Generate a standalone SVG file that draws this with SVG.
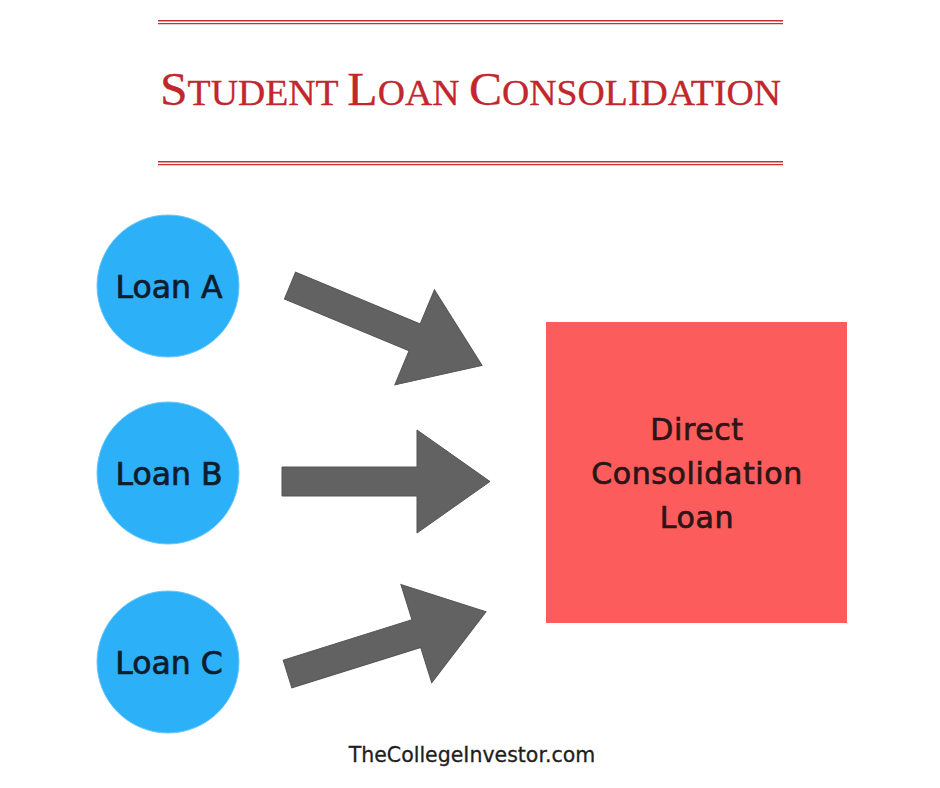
<svg xmlns="http://www.w3.org/2000/svg" width="940" height="788" viewBox="0 0 940 788">
<style>
.rule{stroke:#c8302f;stroke-width:1.4;fill:none}
.title{font-family:"Liberation Serif","Times New Roman",serif;fill:#c1272d;stroke:#c1272d;stroke-width:0.3}
.loan{fill:#2cb0f7;stroke:#6cc8f8;stroke-width:1}
.lt{font-family:"DejaVu Sans","Noto Sans",sans-serif;font-size:31.5px;fill:#0f1c2c;stroke:#0f1c2c;stroke-width:0.7;text-anchor:middle}
.bt{font-family:"DejaVu Sans","Noto Sans",sans-serif;font-size:30px;fill:#2a1616;stroke:#2a1616;stroke-width:0.7;text-anchor:middle;letter-spacing:0.6px}
.arrow{fill:#626262;stroke:#555;stroke-width:1}
.foot{font-family:"DejaVu Sans","Noto Sans",sans-serif;font-size:20.5px;fill:#1e1e1e;stroke:#1e1e1e;stroke-width:0.3;text-anchor:middle}
</style>
<defs>
<polygon id="arr" points="0,-14.5 135,-14.5 135,-51.5 208,0 135,51.5 135,14.5 0,14.5"/>
</defs>
<rect width="940" height="788" fill="#ffffff"/>
<g id="header">
<line class="rule" x1="158" y1="20.7" x2="783" y2="20.7"/>
<line class="rule" x1="158" y1="23.6" x2="783" y2="23.6"/>
<line class="rule" x1="158" y1="161.7" x2="783" y2="161.7"/>
<line class="rule" x1="158" y1="164.6" x2="783" y2="164.6"/>
<text class="title" x="160" y="104.5" textLength="621" lengthAdjust="spacingAndGlyphs"><tspan font-size="46">S</tspan><tspan font-size="35">TUDENT </tspan><tspan font-size="46">L</tspan><tspan font-size="35">OAN </tspan><tspan font-size="46">C</tspan><tspan font-size="35">ONSOLIDATION</tspan></text>
</g>
<g id="loan-a">
<circle class="loan" cx="168" cy="286" r="71"/>
<text class="lt" x="169" y="298">Loan A</text>
</g>
<g id="loan-b">
<circle class="loan" cx="168" cy="473" r="71"/>
<text class="lt" x="169" y="485">Loan B</text>
</g>
<g id="loan-c">
<circle class="loan" cx="168" cy="662" r="71"/>
<text class="lt" x="169" y="674">Loan C</text>
</g>
<g id="connectors">
<use href="#arr" class="arrow" transform="translate(290,285.5) rotate(22.6)"/>
<use href="#arr" class="arrow" transform="translate(282,481.5)"/>
<use href="#arr" class="arrow" transform="translate(287.5,674) rotate(-17.4)"/>
</g>
<g id="direct-consolidation-loan">
<rect x="546" y="322" width="301" height="301" fill="#fd5c5c"/>
<text class="bt" x="697" y="440">Direct</text>
<text class="bt" x="697" y="484">Consolidation</text>
<text class="bt" x="697" y="528">Loan</text>
</g>
<g id="footer">
<text class="foot" x="472" y="762">TheCollegeInvestor.com</text>
</g>
</svg>
